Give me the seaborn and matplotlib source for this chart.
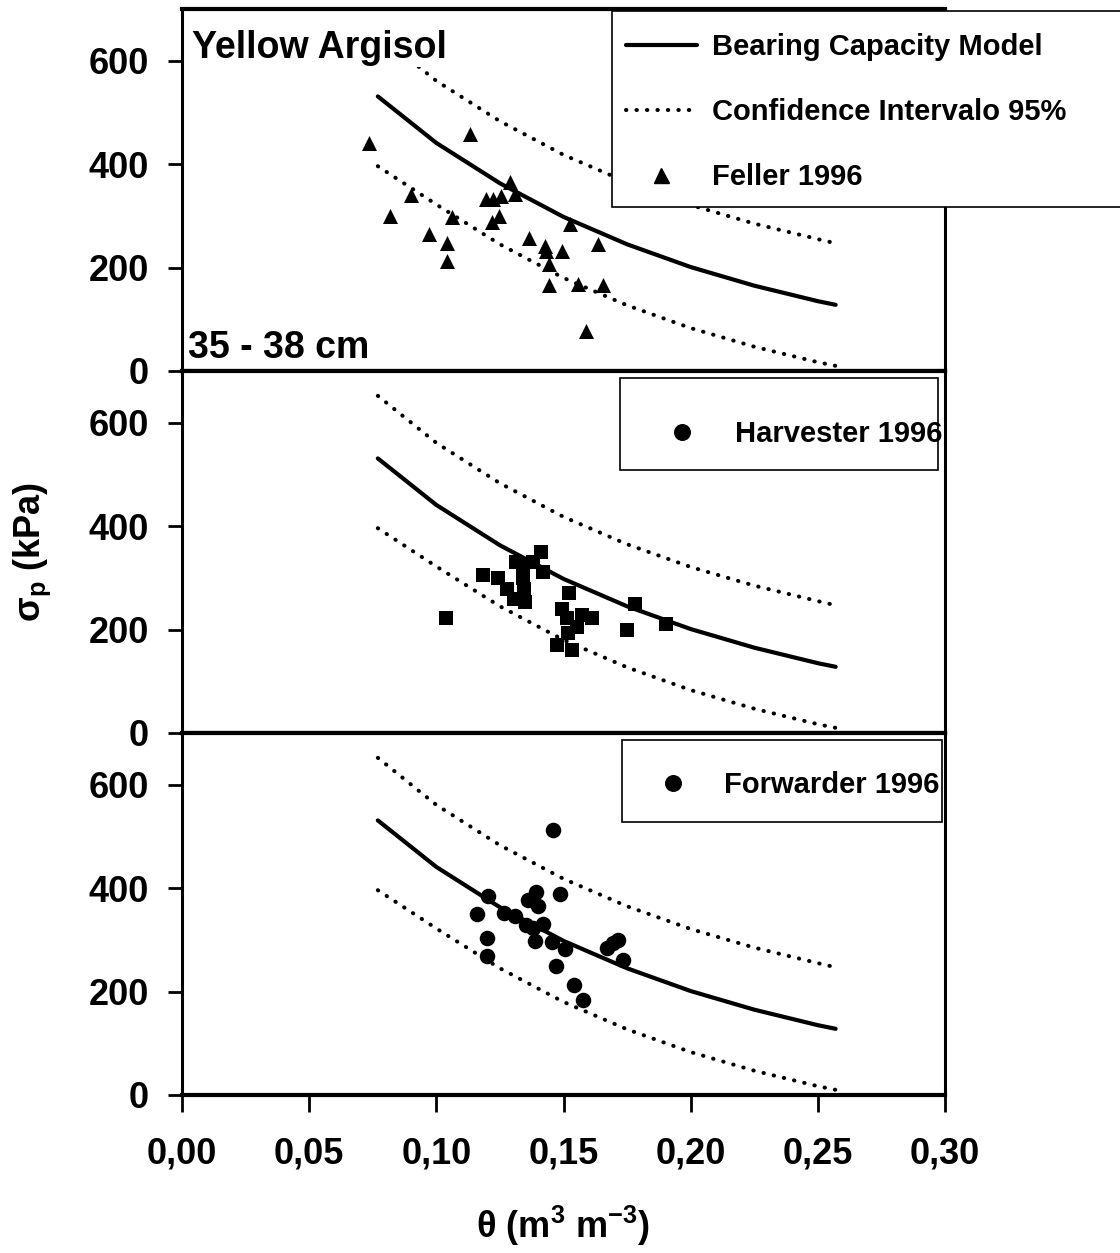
import matplotlib
matplotlib.use("Agg")
import matplotlib.pyplot as plt
from matplotlib.lines import Line2D
from matplotlib.patches import Rectangle
import seaborn as sns

# Bearing capacity model and its 95% confidence band
theta_model = [0.077, 0.100, 0.125, 0.150, 0.175, 0.200, 0.225, 0.250, 0.257]
sigma_model = [531, 441, 363, 298, 245, 201, 165, 135, 128]
sigma_upper = [652, 561, 483, 418, 365, 321, 285, 255, 247]
sigma_lower = [396, 322, 245, 180, 127, 83, 47, 17, 10]

# Feller 1996
feller_theta = [0.0737, 0.1133, 0.0818, 0.0901, 0.0972, 0.1040, 0.1040, 0.1060,
                0.1290, 0.1197, 0.1223, 0.1256, 0.1311, 0.1248, 0.1218, 0.1366,
                0.1429, 0.1431, 0.1493, 0.1443, 0.1526, 0.1634, 0.1444, 0.1556,
                0.1657, 0.1589]
feller_sigma = [441, 458, 299, 340, 264, 248, 212, 298,
                365, 332, 332, 338, 342, 300, 288, 258,
                242, 232, 232, 207, 285, 245, 167, 168,
                167, 78]

# Harvester 1996
harvester_theta = [0.1038, 0.1185, 0.1244, 0.1277, 0.1306, 0.1349, 0.1313, 0.1342,
                   0.1379, 0.1410, 0.1418, 0.1339, 0.1344, 0.1523, 0.1493, 0.1513,
                   0.1572, 0.1614, 0.1552, 0.1519, 0.1473, 0.1533, 0.1749, 0.1781,
                   0.1902]
harvester_sigma = [223, 305, 299, 279, 260, 253, 331, 326,
                   331, 350, 312, 299, 279, 270, 239, 223,
                   228, 223, 205, 194, 170, 161, 200, 249,
                   210]

# Forwarder 1996
forwarder_theta = [0.1458, 0.1205, 0.1159, 0.1201, 0.1201, 0.1266, 0.1309, 0.1353,
                   0.1381, 0.1418, 0.1362, 0.1392, 0.1401, 0.1486, 0.1388, 0.1454,
                   0.1506, 0.1471, 0.1541, 0.1576, 0.1670, 0.1696, 0.1716, 0.1733]
forwarder_sigma = [513, 384, 350, 304, 269, 352, 346, 328,
                   322, 331, 378, 393, 365, 388, 297, 296,
                   283, 250, 212, 183, 284, 293, 299, 261]

x_ticks = [0.00, 0.05, 0.10, 0.15, 0.20, 0.25, 0.30]
x_tick_labels = ["0,00", "0,05", "0,10", "0,15", "0,20", "0,25", "0,30"]
y_ticks = [0, 200, 400, 600]

sns.set_theme(style="ticks")
plt.rcParams["font.family"] = ["Liberation Sans", "DejaVu Sans"]
plt.rcParams["font.weight"] = "bold"
plt.rcParams["text.color"] = "black"
plt.rcParams["axes.labelcolor"] = "black"
plt.rcParams["xtick.color"] = "black"
plt.rcParams["ytick.color"] = "black"
plt.rcParams["xtick.labelcolor"] = "black"
plt.rcParams["ytick.labelcolor"] = "black"
plt.rcParams["mathtext.fontset"] = "custom"
plt.rcParams["mathtext.rm"] = "Liberation Sans:bold"
plt.rcParams["mathtext.bf"] = "Liberation Sans:bold"

FW, FH = 1120, 1253
fig = plt.figure(figsize=(FW / 100, FH / 100), dpi=100)

left, width = 182 / FW, 763 / FW
height = 362 / FH
bottoms = [1 - 371 / FH, 1 - 733 / FH, 1 - 1095 / FH]
axes = [fig.add_axes([left, b, width, height]) for b in bottoms]

dot_style = (0, (0.1, 2.5))
dot_width = 2.9
series = [
    (feller_theta, feller_sigma, "^", 117),
    (harvester_theta, harvester_sigma, "s", 94),
    (forwarder_theta, forwarder_sigma, "o", 125),
]

for i, (ax, (tx, sy, mk, ms)) in enumerate(zip(axes, series)):
    sns.lineplot(x=theta_model, y=sigma_model, ax=ax, color="black",
                 linewidth=3, estimator=None, sort=False, zorder=2)
    for band in (sigma_upper, sigma_lower):
        sns.lineplot(x=theta_model, y=band, ax=ax, color="black",
                     linewidth=dot_width, linestyle=dot_style,
                     dash_capstyle="round", estimator=None, sort=False, zorder=2)
    sns.scatterplot(x=tx, y=sy, ax=ax, marker=mk, s=ms, color="black",
                    edgecolor="black", linewidth=0, zorder=3)

    ax.set_xlim(0, 0.30)
    ax.set_ylim(0, 700)
    ax.set_yticks(y_ticks)
    ax.set_yticklabels([str(v) for v in y_ticks], fontsize=26, fontweight="bold",
                       color="black")
    ax.set_xticks(x_ticks)
    ax.set_xlabel("")
    ax.set_ylabel("")
    ax.tick_params(axis="y", direction="out", length=10, width=2, pad=14,
                   color="black")
    for side, sp in ax.spines.items():
        sp.set_visible(True)
        sp.set_color("black")
        sp.set_linewidth(3 if side in ("top", "bottom") else 2.2)
    if i < 2:
        ax.tick_params(axis="x", bottom=False, labelbottom=False)
    else:
        ax.set_xticklabels(x_tick_labels, fontsize=26, fontweight="bold",
                           color="black")
        ax.tick_params(axis="x", direction="out", length=12, width=2, pad=18,
                       color="black")

# panel annotations
axes[0].text(0.004, 625, "Yellow Argisol", fontsize=27, fontweight="bold",
             va="center", ha="left", zorder=4, color="black",
             bbox=dict(facecolor="white", edgecolor="none", pad=1))
axes[0].text(0.0024, 45, "35 - 38 cm", fontsize=27, fontweight="bold",
             va="center", ha="left", zorder=4, color="black")

# axis titles
fig.text(32 / FW, 1 - 552 / FH, "σ$_\\mathregular{p}$ (kPa)", rotation=90,
         fontsize=26, fontweight="bold", ha="center", va="center", color="black")
fig.text(563 / FW, 1 - 1226 / FH, "θ (m$^\\mathregular{3}$ m$^\\mathregular{-3}$)",
         fontsize=26, fontweight="bold", ha="center", va="center", color="black")


def frame(x0, y0, x1, y1):
    fig.add_artist(Rectangle((x0 / FW, 1 - y1 / FH), (x1 - x0) / FW, (y1 - y0) / FH,
                             transform=fig.transFigure, facecolor="white",
                             edgecolor="black", linewidth=1.2, zorder=3,
                             clip_on=False))


leg_kw = dict(loc="upper left", bbox_transform=fig.transFigure, frameon=False,
              borderpad=0, borderaxespad=0, prop=dict(weight="bold", size=21),
              labelcolor="black")

# legend of the top panel
frame(612, 11, 1130, 207)
top_handles = [
    Line2D([], [], color="black", linewidth=3),
    Line2D([], [], color="black", linewidth=dot_width, linestyle=dot_style,
           dash_capstyle="round"),
    Line2D([], [], color="black", marker="^", markersize=10.8, linestyle="none"),
]
top_labels = ["Bearing Capacity Model", "Confidence Intervalo 95%", "Feller 1996"]
lg = fig.legend(top_handles, top_labels, bbox_to_anchor=(626 / FW, 1 - 33 / FH),
                handlelength=2.43, handletextpad=0.51, labelspacing=1.27, **leg_kw)
lg.set_zorder(5)

# legend of the middle panel
frame(620, 378, 938, 470)
lg = fig.legend([Line2D([], [], color="black", marker="o", markersize=11.2,
                        linestyle="none")], ["Harvester 1996"],
                bbox_to_anchor=(653 / FW, 1 - 420 / FH), handlelength=2.0,
                handletextpad=0.82, **leg_kw)
lg.set_zorder(5)

# legend of the bottom panel
frame(622, 740, 942, 822)
lg = fig.legend([Line2D([], [], color="black", marker="o", markersize=11.2,
                        linestyle="none")], ["Forwarder 1996"],
                bbox_to_anchor=(644 / FW, 1 - 771 / FH), handlelength=2.0,
                handletextpad=0.75, **leg_kw)
lg.set_zorder(5)

fig.savefig("out.png", dpi=100, facecolor="white")
